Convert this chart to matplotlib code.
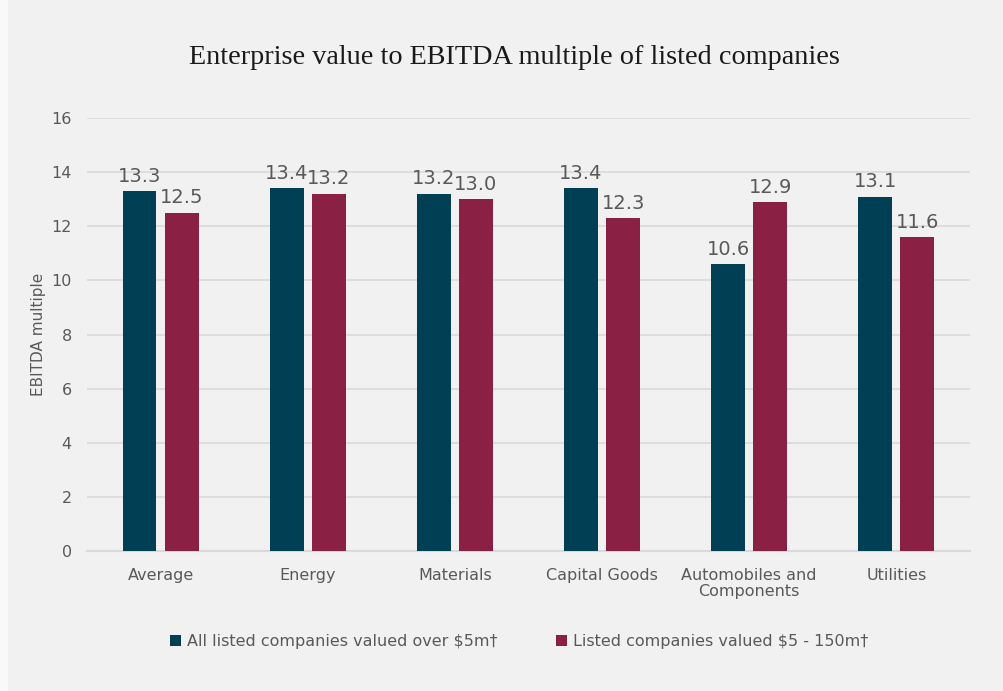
import matplotlib.pyplot as plt
from matplotlib.patches import Rectangle
import numpy as np

categories = ["Average", "Energy", "Materials", "Capital Goods", "Automobiles and\nComponents", "Utilities"]
all_listed = [13.3, 13.4, 13.2, 13.4, 10.6, 13.1]
small_listed = [12.5, 13.2, 13.0, 12.3, 12.9, 11.6]
series_names = ["All listed companies valued over $5m\u2020", "Listed companies valued $5 - 150m\u2020"]
yticks = [0, 2, 4, 6, 8, 10, 12, 14, 16]

bg = "#f1f1f1"
c_dark = "#003f54"
c_red = "#8b2045"
txt = "#595959"

plt.rcParams["font.family"] = ["DejaVu Sans"]

fig = plt.figure(figsize=(10.04, 6.91), dpi=100, facecolor=bg)
# thin lighter strip on the left edge
fig.patches.append(Rectangle((0, 0), 8 / 1004, 1, transform=fig.transFigure,
                             facecolor="#f9f9f9", edgecolor="none", zorder=0))
ax = fig.add_axes([0.0867, 0.2026, 0.8793, 0.6266], facecolor=bg)

x = np.arange(len(categories))
w = 0.23
off = 0.143
b1 = ax.bar(x - off, all_listed, w, color=c_dark, label=series_names[0], zorder=3)
b2 = ax.bar(x + off, small_listed, w, color=c_red, label=series_names[1], zorder=3)

for bars in (b1, b2):
    for r in bars:
        ax.text(r.get_x() + r.get_width() / 2, r.get_height() + 0.2, "%.1f" % r.get_height(),
                ha="center", va="bottom", fontsize=14, color=txt, zorder=4)

ax.set_xlim(-0.5, len(categories) - 0.5)
ax.set_ylim(0, 16)
ax.set_yticks(yticks)
ax.set_xticks(x)
ax.set_xticklabels(categories, fontsize=11.5, color=txt, linespacing=1.15)
ax.tick_params(axis="y", labelsize=11.5, labelcolor=txt, length=0, pad=11)
ax.tick_params(axis="x", length=0, pad=12)
ax.yaxis.grid(True, color="#d9d9d9", linewidth=1.2, zorder=0)
for s in ["top", "right", "left"]:
    ax.spines[s].set_visible(False)
ax.spines["bottom"].set_color("#d9d9d9")
ax.spines["bottom"].set_linewidth(1.5)
ax.set_ylabel("EBITDA multiple", fontsize=11, color=txt, labelpad=4)

fig.suptitle("Enterprise value to EBITDA multiple of listed companies", x=0.512, y=0.935,
             fontsize=20.3, family="Liberation Serif", color="#1a1a1a")

leg = fig.legend(loc="center", bbox_to_anchor=(0.517, 0.071), ncol=2, frameon=False,
                 fontsize=11.5, handlelength=0.7, handleheight=0.7, handletextpad=0.35,
                 columnspacing=3.7)
for t in leg.get_texts():
    t.set_color(txt)

fig.savefig("out.png", dpi=100, facecolor=bg)
